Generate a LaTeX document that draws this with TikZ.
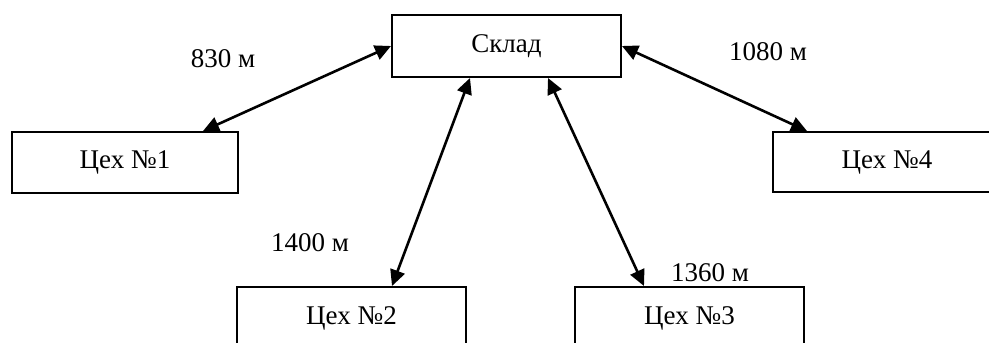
\documentclass[tikz,border=0pt]{standalone}
\usepackage{fontspec}
\setmainfont{Liberation Serif}
\usetikzlibrary{arrows.meta,calc}
\begin{document}
\begin{tikzpicture}[x=1pt,y=-1pt,
  box/.style={draw,line width=2pt,rectangle,minimum width=229pt,minimum height=62pt,inner sep=0pt,font=\fontsize{27}{32}\selectfont},
  lbl/.style={font=\fontsize{27}{32}\selectfont,inner sep=0pt},
  conn/.style={line width=2.6pt,{Triangle[length=16pt,width=15pt]}-{Triangle[length=16pt,width=15pt]}}]
\useasboundingbox (0,0) rectangle (989,343);
\begin{scope}
\clip (0,0) rectangle (989,343);
\node[box] (s) at (506.5,46) {Склад};
\node[box,minimum width=226pt,minimum height=61pt] (c1) at (125,162.5) {Цех №1};
\node[box,minimum width=228pt,minimum height=60pt] (c4) at (887,162) {Цех №4};
\node[box] (c2) at (351.5,318) {Цех №2};
\node[box] (c3) at (689.5,318) {Цех №3};
\end{scope}
\draw[conn] (s.west) -- ($(c1.north)+(78,0)$);
\draw[conn] (s.east) -- ($(c4.north)+(-80,0)$);
\draw[conn] ($(s.south)+(-36.5,0)$) -- ($(c2.north)+(40.5,0)$);
\draw[conn] ($(s.south)+(41.5,0)$) -- ($(c3.north)+(-45.5,0)$);
\node[lbl] (l1) at (223,59) {830 м};
\node[lbl] (l2) at (768,52) {1080 м};
\node[lbl] (l3) at (310,243) {1400 м};
\node[lbl] (l4) at (710,273) {1360 м};
\end{tikzpicture}
\end{document}
